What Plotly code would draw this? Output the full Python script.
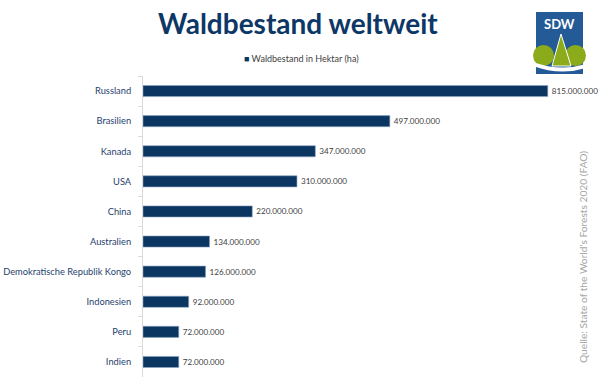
import plotly.graph_objects as go

countries = ["Russland", "Brasilien", "Kanada", "USA", "China", "Australien",
             "Demokratische Republik Kongo", "Indonesien", "Peru", "Indien"]
values = [815000000, 497000000, 347000000, 310000000, 220000000, 134000000,
          126000000, 92000000, 72000000, 72000000]
series_name = "Waldbestand in Hektar (ha)"

W, H = 600, 385
L, R, T, B = 143, 10, 76, 8
PW, PH = W - L - R, H - T - B
FONT = "Lato, Open Sans, sans-serif"

def px(x):
    return (x - L) / PW

def py(y):
    return (H - B - y) / PH

fig = go.Figure()
fig.add_trace(go.Bar(
    y=countries, x=values, orientation="h", name=series_name,
    marker=dict(color="#0b3661", line=dict(color="#8fa6c4", width=0.6)),
    width=0.37,
    texttemplate="\u2009%{x:,.0f}", textposition="outside", cliponaxis=False,
    textfont=dict(family=FONT, size=8.1, color="#404040"),
    showlegend=False,
))

shapes = []
# Logo
shapes.append(dict(type="rect", xref="paper", yref="paper",
                   x0=px(536), x1=px(583), y0=py(74), y1=py(12),
                   fillcolor="#245a96", line=dict(width=0), layer="above"))
shapes.append(dict(type="circle", xref="paper", yref="paper",
                   x0=px(533), x1=px(554), y0=py(66), y1=py(45),
                   fillcolor="#8bab1b", line=dict(width=0), layer="above"))
shapes.append(dict(type="circle", xref="paper", yref="paper",
                   x0=px(565), x1=px(586), y0=py(66), y1=py(45),
                   fillcolor="#8bab1b", line=dict(width=0), layer="above"))
tri = "M {a},{b} L {c},{d} L {e},{f} Z".format(
    a=px(561), b=py(34), c=px(552), d=py(66), e=px(571), f=py(66))
shapes.append(dict(type="path", xref="paper", yref="paper", path=tri,
                   fillcolor="#8bab1b", line=dict(color="white", width=1), layer="above"))
wave = "M {x0},{y0} Q {qx},{qy} {x1},{y1} L {x1},{y2} Q {qx},{qy2} {x0},{y3} Z".format(
    x0=px(533), y0=py(62), qx=px(560), qy=py(72), x1=px(586), y1=py(64),
    y2=py(68), qy2=py(76), y3=py(66))
shapes.append(dict(type="path", xref="paper", yref="paper", path=wave,
                   fillcolor="white", line=dict(width=0), layer="above"))

annotations = [
    dict(text="<b>Waldbestand weltweit</b>", x=px(298), y=py(23), xref="paper", yref="paper",
         showarrow=False, xanchor="center", yanchor="middle",
         font=dict(family=FONT, size=28, color="#0d3766")),
    dict(text="<b>SDW</b>", x=px(559.5), y=py(24), xref="paper", yref="paper",
         showarrow=False, xanchor="center", yanchor="middle",
         font=dict(family=FONT, size=13, color="white")),
    dict(text="<span style='color:#0b3661'>■</span> " + series_name,
         x=px(301), y=py(58), xref="paper", yref="paper",
         showarrow=False, xanchor="center", yanchor="middle",
         font=dict(family=FONT, size=9, color="#404040")),
    dict(text="Quelle: State of the World's Forests 2020 (FAO)", x=px(583), y=py(257),
         xref="paper", yref="paper", showarrow=False, textangle=-90,
         xanchor="center", yanchor="middle",
         font=dict(family=FONT, size=10.2, color="#a6a6a6")),
]

fig.update_layout(
    width=W, height=H,
    margin=dict(l=L, r=R, t=T, b=B, pad=0, autoexpand=False),
    paper_bgcolor="white", plot_bgcolor="white",
    separators=",.",
    shapes=shapes,
    annotations=annotations,
    showlegend=False,
    xaxis=dict(range=[0, 900000000], showgrid=False, showticklabels=False,
               zeroline=False, showline=False, ticks="", automargin=False),
    yaxis=dict(autorange="reversed", showgrid=False, showline=True,
               linecolor="#d9d9d9", linewidth=1, ticks="outside", ticklen=4,
               tickcolor="#d9d9d9", tickson="boundaries", ticklabelstandoff=9,
               automargin=False,
               tickfont=dict(family=FONT, size=9.3, color="#1f3f6e")),
)

fig.write_html("out.html", config={"displayModeBar": False},
               post_script="document.body.style.margin='0';document.body.style.overflow='hidden';")
